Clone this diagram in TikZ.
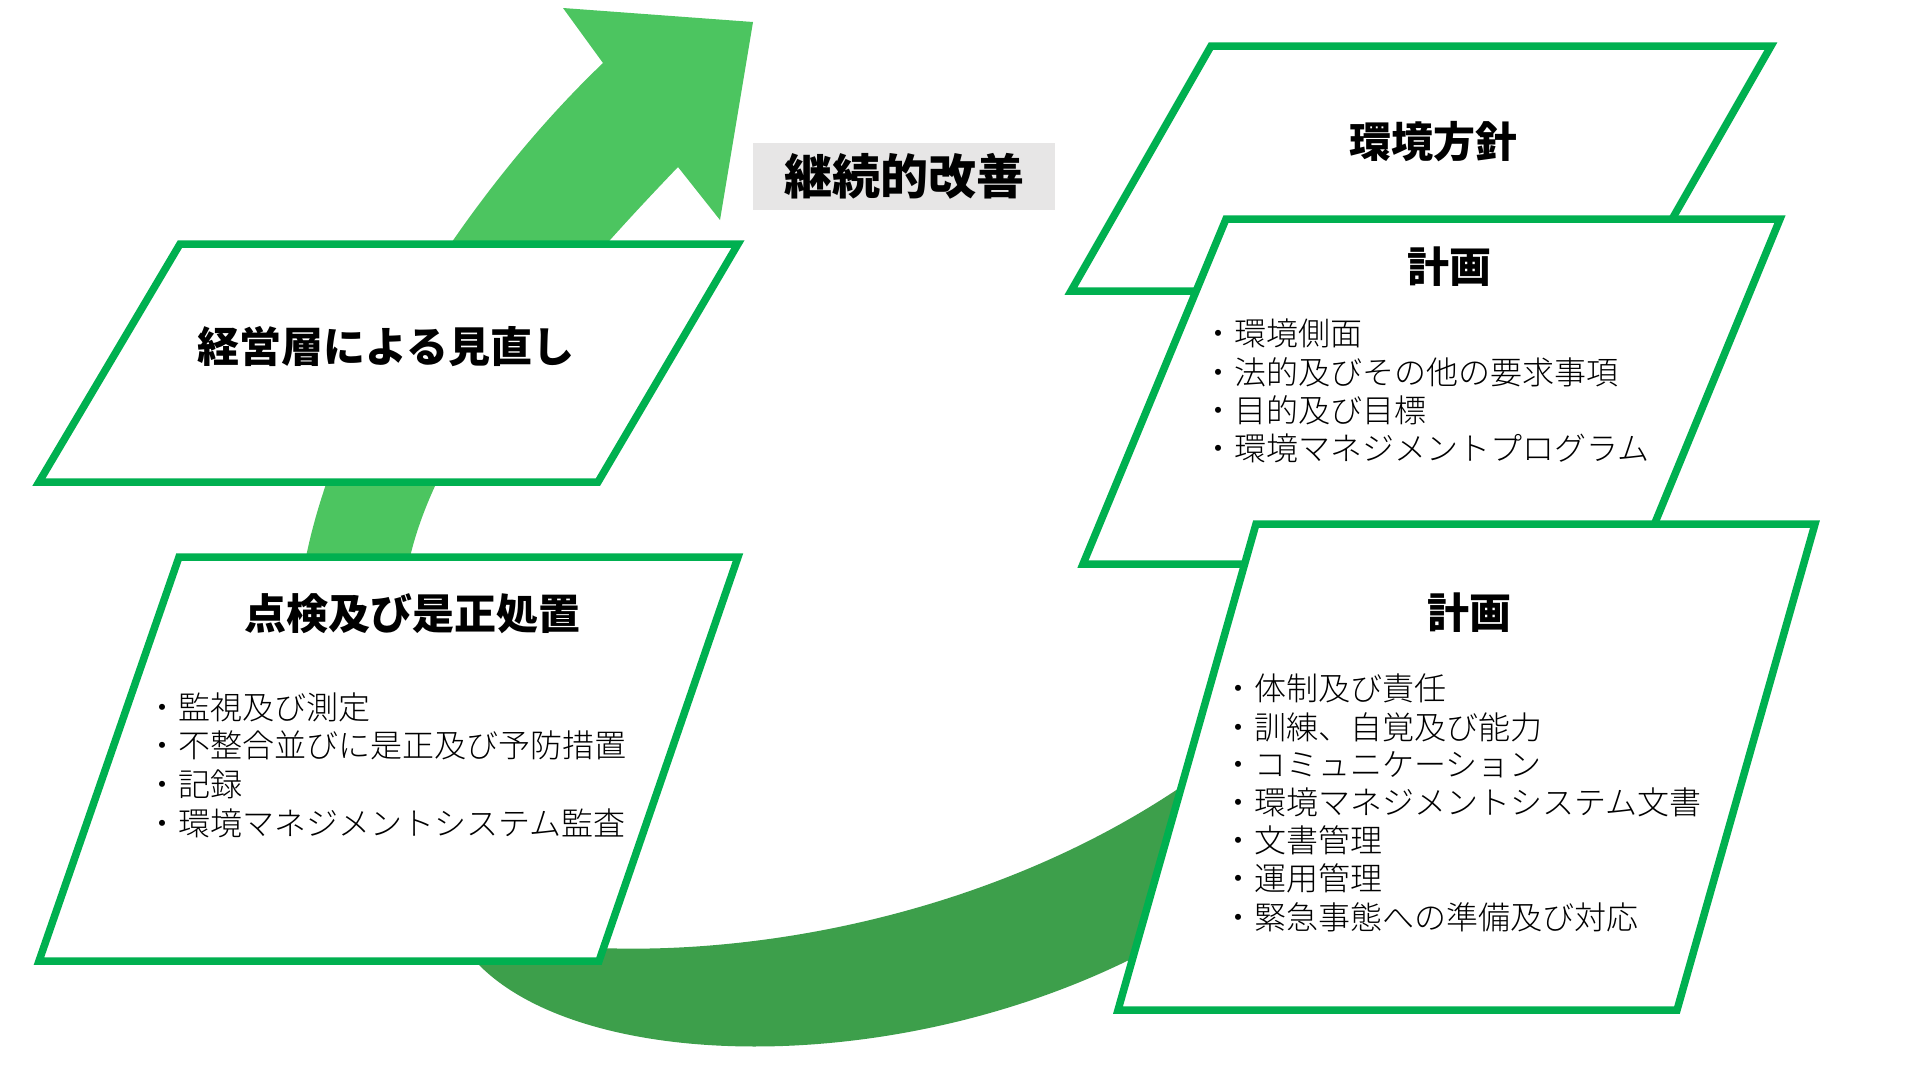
\documentclass[tikz,border=0pt]{standalone}
\usepackage{fontspec}
\setmainfont{Noto Sans CJK JP}
\newfontfamily\jplight{Noto Sans CJK JP}[UprightFont=* Light]
\definecolor{boxgreen}{RGB}{0,176,80}
\definecolor{lightg}{RGB}{76,197,96}
\definecolor{darkg}{RGB}{61,159,75}
\definecolor{greyfill}{RGB}{231,230,230}
\tikzset{
  frame/.style={draw=boxgreen, fill=white, line width=7.5pt, line join=miter},
  ttl/.style={font=\fontsize{42pt}{50pt}\selectfont\bfseries, inner sep=0pt, text height=36pt, text depth=4.5pt},
  item/.style={font=\fontsize{32pt}{38pt}\selectfont\jplight, inner sep=0pt, anchor=west, text height=28pt, text depth=4pt},
  tagbox/.style={fill=greyfill, inner sep=0pt, minimum width=302pt, minimum height=67pt, font=\fontsize{48pt}{56pt}\selectfont\bfseries, text height=41pt, text depth=5pt}
}
\begin{document}
\begin{tikzpicture}[x=1pt,y=-1pt]
\useasboundingbox (0,0) rectangle (1920,1080);
\fill[white] (0,0) rectangle (1920,1080);

% light green rising arrow
\fill[lightg] (300,720) -- (306,557) .. controls (340,390) and (470,190) .. (603,63)
  -- (563,8) -- (753,22) -- (720,220) -- (678,167)
  .. controls (560,290) and (440,430) .. (410,557) -- (405,720) -- cycle;

% dark green lower band
\fill[darkg] (470,955) .. controls (565,1070) and (880,1082) .. (1129,960)
  -- (1200,930) -- (1205,770)
  .. controls (1020,905) and (780,955) .. (600,948) -- cycle;

% left boxes
\draw[frame] (180,244) -- (738,244) -- (598,482) -- (39,482) -- cycle;
\draw[frame] (179,557) -- (738,557) -- (599,961) -- (39,961) -- cycle;

% label
\node[tagbox] (kz) at (904,176) {継続的改善};

% right boxes
\draw[frame] (1211,46) -- (1771,46) -- (1631,291) -- (1071,291) -- cycle;
\draw[frame] (1226,219) -- (1780,219) -- (1638,564) -- (1083,564) -- cycle;
\draw[frame] (1256,524) -- (1815,524) -- (1677,1010) -- (1118,1010) -- cycle;

% titles
\node[ttl] (t1) at (386,347) {経営層による見直し};
\node[ttl] (t2) at (412,614) {点検及び是正処置};
\node[ttl] (t3) at (1433,142) {環境方針};
\node[ttl] (t4) at (1449,267) {計画};
\node[ttl] (t5) at (1469,613) {計画};

% items box 2
\node[item] (a1) at (146,707) {・監視及び測定};
\node[item] (a2) at (146,745) {・不整合並びに是正及び予防措置};
\node[item] (a3) at (146,784) {・記録};
\node[item] (a4) at (146,823) {・環境マネジメントシステム監査};

% items box 4
\node[item] (b1) at (1202,333) {・環境側面};
\node[item] (b2) at (1202,372) {・法的及びその他の要求事項};
\node[item] (b3) at (1202,410) {・目的及び目標};
\node[item] (b4) at (1202,448) {・環境マネジメントプログラム};

% items box 5
\node[item] (c1) at (1222,688) {・体制及び責任};
\node[item] (c2) at (1222,727) {・訓練、自覚及び能力};
\node[item] (c3) at (1222,764) {・コミュニケーション};
\node[item] (c4) at (1222,802) {・環境マネジメントシステム文書};
\node[item] (c5) at (1222,840) {・文書管理};
\node[item] (c6) at (1222,878) {・運用管理};
\node[item] (c7) at (1222,917) {・緊急事態への準備及び対応};
\end{tikzpicture}
\end{document}
